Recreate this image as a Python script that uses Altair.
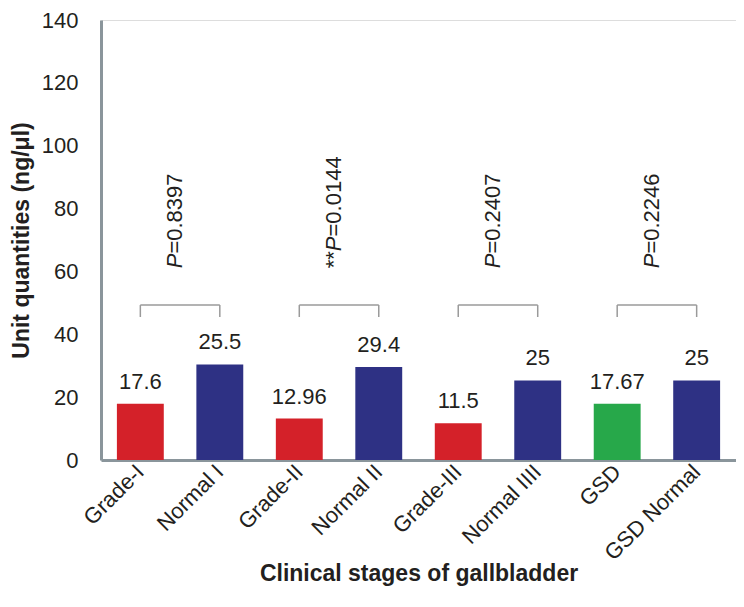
import altair as alt
import pandas as pd

# ---- data ----
categories = ["Grade-I", "Normal I", "Grade-II", "Normal II",
              "Grade-III", "Normal IIII", "GSD", "GSD Normal"]
bar_heights = [17.9, 30.4, 13.2, 29.6, 11.7, 25.3, 17.9, 25.3]
value_labels = ["17.6", "25.5", "12.96", "29.4", "11.5", "25", "17.67", "25"]
bar_groups = ["Grade", "Normal", "Grade", "Normal", "Grade", "Normal", "GSD", "Normal"]

pair_left = ["Grade-I", "Grade-II", "Grade-III", "GSD"]
pair_right = ["Normal I", "Normal II", "Normal IIII", "GSD Normal"]
p_stars = ["", "**", "", ""]
p_rest = ["=0.8397", "=0.0144", "=0.2407", "=0.2246"]
bracket_top = 49.3
bracket_foot = 45.5
p_text_level = 61

y_ticks = [0, 20, 40, 60, 80, 100, 120, 140]

group_domain = ["Grade", "Normal", "GSD"]
group_range = ["#d42129", "#2e3184", "#27a84a"]

FONT = "Liberation Sans"
TXT = "#231f20"
FS = 22
TFS = 23

bars_df = pd.DataFrame({"cat": categories, "val": bar_heights,
                        "lab": value_labels, "grp": bar_groups})
pairs_df = pd.DataFrame({"left": pair_left, "right": pair_right,
                         "stars": p_stars, "rest": p_rest,
                         "top": bracket_top, "foot": bracket_foot,
                         "plev": p_text_level, "P": "P"})

xscale = alt.Scale(domain=categories, paddingInner=0.41, paddingOuter=0.2)
yscale = alt.Scale(domain=[0, 140], nice=False)

x_axis = alt.Axis(labelAngle=-45, labelAlign="right", labelBaseline="middle",
                  labelPadding=8, ticks=False, domainColor="#8a959b", domainWidth=3,
                  labelFont=FONT, labelFontSize=FS, labelColor=TXT,
                  title="Clinical stages of gallbladder", titleFont=FONT,
                  titleFontSize=TFS, titleFontWeight="bold", titleColor=TXT,
                  titleBaseline="alphabetic", titleY=120)
y_axis = alt.Axis(values=y_ticks, ticks=False, grid=False, labelPadding=23,
                  domainColor="#8a959b", domainWidth=3,
                  labelFont=FONT, labelFontSize=FS, labelColor=TXT,
                  title="Unit quantities (ng/μl)", titleFont=FONT,
                  titleFontSize=TFS, titleFontWeight="bold", titleColor=TXT,
                  titleX=-80, titleBaseline="middle")

base = alt.Chart(bars_df)
bars = base.mark_bar().encode(
    x=alt.X("cat:N", scale=xscale, axis=x_axis, sort=categories),
    y=alt.Y("val:Q", scale=yscale, axis=y_axis),
    color=alt.Color("grp:N", scale=alt.Scale(domain=group_domain, range=group_range),
                    legend=None),
)
labels = base.mark_text(font=FONT, fontSize=FS, color=TXT, baseline="alphabetic",
                        dy=-15).encode(
    x=alt.X("cat:N", scale=xscale, sort=categories),
    y=alt.Y("val:Q", scale=yscale),
    text="lab:N",
)

pbase = alt.Chart(pairs_df)
bracket_h = pbase.mark_rule(color="#9a9a9a", strokeWidth=1.5).encode(
    x=alt.X("left:N", scale=xscale, sort=categories),
    x2="right:N",
    y=alt.Y("top:Q", scale=yscale),
)
bracket_l = pbase.mark_rule(color="#9a9a9a", strokeWidth=1.5).encode(
    x=alt.X("left:N", scale=xscale, sort=categories),
    y=alt.Y("foot:Q", scale=yscale),
    y2="top:Q",
)
bracket_r = pbase.mark_rule(color="#9a9a9a", strokeWidth=1.5).encode(
    x=alt.X("right:N", scale=xscale, sort=categories),
    y=alt.Y("foot:Q", scale=yscale),
    y2="top:Q",
)

def ptext(field, dx, italic, cond):
    return pbase.transform_filter(cond).mark_text(
        font=FONT, fontSize=FS, color=TXT, angle=270, align="left",
        baseline="middle", dx=dx, dy=35,
        fontStyle="italic" if italic else "normal",
    ).encode(
        x=alt.X("left:N", scale=xscale, sort=categories),
        y=alt.Y("plev:Q", scale=yscale),
        text=f"{field}:N",
    )

plain = "datum.stars == ''"
starred = "datum.stars != ''"
p_layers = [
    ptext("P", 0, True, plain),
    ptext("rest", 14.7, False, plain),
    ptext("stars", 0, False, starred),
    ptext("P", 17.1, True, starred),
    ptext("rest", 31.8, False, starred),
]

chart = alt.layer(bars, labels, bracket_h, bracket_l, bracket_r, *p_layers).properties(
    width=635, height=440,
    autosize=alt.AutoSizeParams(type="none"),
    padding={"left": 93, "top": 12, "right": 0, "bottom": 126},
).configure_view(stroke=None).configure(background="white")

chart.save("out.html", embed_options={"renderer": "svg", "actions": False})
